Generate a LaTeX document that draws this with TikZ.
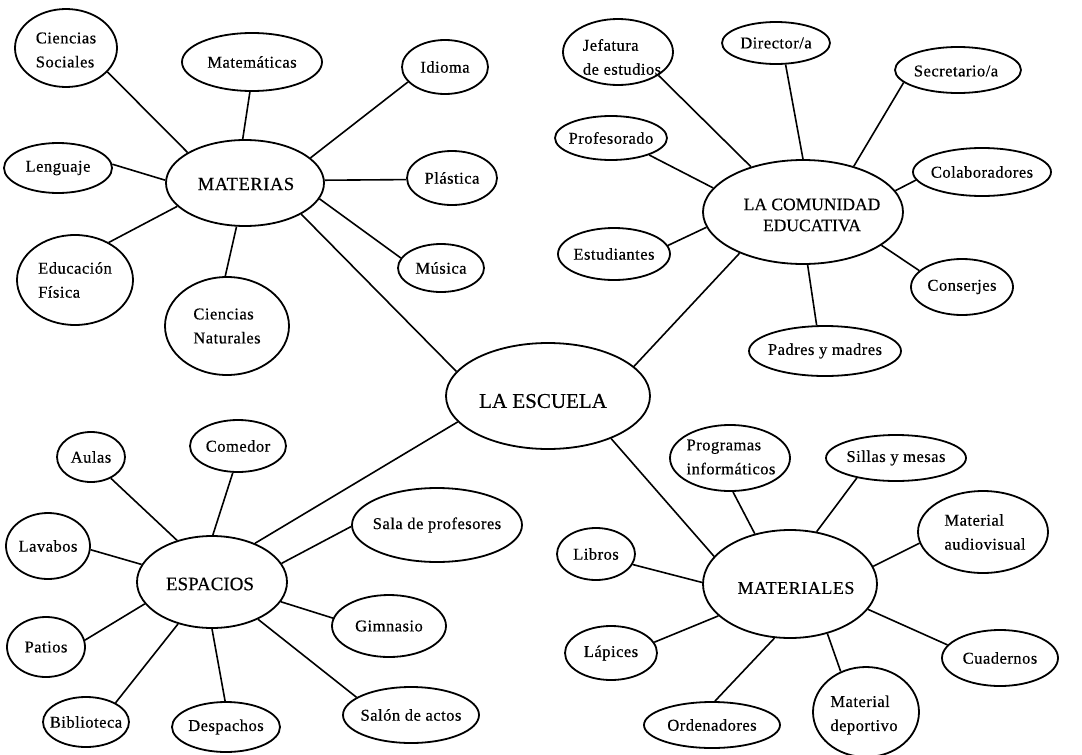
\documentclass[tikz,border=0pt]{standalone}
\usepackage{fontspec}
\setmainfont{Liberation Serif}[FakeBold=0.4]
\newfontfamily\leaffont{Liberation Serif}[LetterSpace=3, FakeBold=0.4]
\newfontfamily\hubfont{Liberation Serif}[LetterSpace=3, FakeBold=0.4]
\usetikzlibrary{shapes.geometric}

\tikzset{
  bub/.style={ellipse, draw=black, line width=1.8pt, inner sep=0pt},
  lbl/.style={inner sep=0pt, align=left, text=black,
    font=\leaffont\fontsize{16.5}{24}\selectfont},
  hub/.style={inner sep=0pt, align=center, text=black},
  link/.style={draw=black, line width=1.6pt},
}

\begin{document}
\begin{tikzpicture}[x=1pt, y=-1pt]
\useasboundingbox[fill=white] (0,0) rectangle (1082,755);

% ---------- hubs ----------
\node[bub, minimum width=204pt, minimum height=106pt] (esc) at (548,396) {};
\node[bub, minimum width=158pt, minimum height=86pt]  (mat) at (245,183) {};
\node[bub, minimum width=200pt, minimum height=104pt] (com) at (803,212) {};
\node[bub, minimum width=150pt, minimum height=92pt]  (esp) at (212,582) {};
\node[bub, minimum width=174pt, minimum height=108pt] (mtl) at (790,584) {};

\node[hub, font=\fontsize{21}{24}\selectfont] (esc-t) at (543,401) {LA ESCUELA};
\node[hub, font=\hubfont\fontsize{18.5}{22}\selectfont] (mat-t) at (246,184) {MATERIAS};
\node[hub, font=\fontsize{17.5}{21}\selectfont] (com-t) at (812,215) {LA COMUNIDAD\\EDUCATIVA};
\node[hub, font=\fontsize{19}{22}\selectfont] (esp-t) at (210,584) {ESPACIOS};
\node[hub, font=\hubfont\fontsize{18}{22}\selectfont] (mtl-t) at (796,588) {MATERIALES};

% ---------- MATERIAS ----------
\node[bub, minimum width=102pt, minimum height=78pt] (cs)   at (66,48)   {};
\node[bub, minimum width=140pt, minimum height=58pt] (mate) at (252,62)  {};
\node[bub, minimum width=86pt,  minimum height=54pt] (idi)  at (445,67)  {};
\node[bub, minimum width=90pt,  minimum height=54pt] (pla)  at (452,178) {};
\node[bub, minimum width=86pt,  minimum height=48pt] (mus)  at (441,268) {};
\node[bub, minimum width=108pt, minimum height=50pt] (len)  at (58,168)  {};
\node[bub, minimum width=116pt, minimum height=90pt] (ef)   at (75,280)  {};
\node[bub, minimum width=124pt, minimum height=98pt] (cn)   at (227,326) {};

\node[lbl] (cs-t)   at (66,50)  {Ciencias\\Sociales};
\node[lbl] (mate-t) at (mate) {Matemáticas};
\node[lbl] (idi-t)  at (idi)  {Idioma};
\node[lbl] (pla-t)  at (pla)  {Plástica};
\node[lbl] (mus-t)  at (mus)  {Música};
\node[lbl] (len-t)  at (len)  {Lenguaje};
\node[lbl] (ef-t)   at (ef)   {Educación\\Física};
\node[lbl] (cn-t)   at (cn)   {Ciencias\\Naturales};

% ---------- LA COMUNIDAD EDUCATIVA ----------
\node[bub, minimum width=110pt, minimum height=66pt] (jef)  at (618,52)  {};
\node[bub, minimum width=108pt, minimum height=42pt] (dir)  at (776,43)  {};
\node[bub, minimum width=126pt, minimum height=46pt] (sec)  at (958,70)  {};
\node[bub, minimum width=112pt, minimum height=44pt] (prof) at (611,138) {};
\node[bub, minimum width=138pt, minimum height=48pt] (col)  at (982,172) {};
\node[bub, minimum width=112pt, minimum height=52pt] (est)  at (614,254) {};
\node[bub, minimum width=102pt, minimum height=56pt] (con)  at (962,287) {};
\node[bub, minimum width=152pt, minimum height=50pt] (pad)  at (825,351) {};

\node[lbl] (jef-t)  at (622,57)  {Jefatura\\de estudios};
\node[lbl] (dir-t)  at (dir)  {Director/a};
\node[lbl] (sec-t)  at (956,71) {Secretario/a};
\node[lbl] (prof-t) at (prof) {Profesorado};
\node[lbl] (col-t)  at (col)  {Colaboradores};
\node[lbl] (est-t)  at (est)  {Estudiantes};
\node[lbl] (con-t)  at (con)  {Conserjes};
\node[lbl] (pad-t)  at (pad)  {Padres y madres};

% ---------- ESPACIOS ----------
\node[bub, minimum width=68pt,  minimum height=50pt] (aul)   at (91,457)  {};
\node[bub, minimum width=96pt,  minimum height=52pt] (come)  at (238,446) {};
\node[bub, minimum width=84pt,  minimum height=66pt] (lav)   at (48,546)  {};
\node[bub, minimum width=170pt, minimum height=74pt] (sala)  at (437,525) {};
\node[bub, minimum width=78pt,  minimum height=60pt] (pat)   at (46,647)  {};
\node[bub, minimum width=114pt, minimum height=62pt] (gim)   at (389,626) {};
\node[bub, minimum width=86pt,  minimum height=50pt] (bib)   at (86,722)  {};
\node[bub, minimum width=108pt, minimum height=50pt] (des)   at (226,727) {};
\node[bub, minimum width=136pt, minimum height=56pt] (salon) at (411,715) {};

\node[lbl] (aul-t)   at (aul)   {Aulas};
\node[lbl] (come-t)  at (come)  {Comedor};
\node[lbl] (lav-t)   at (lav)   {Lavabos};
\node[lbl] (sala-t)  at (sala)  {Sala de profesores};
\node[lbl] (pat-t)   at (pat)   {Patios};
\node[lbl] (gim-t)   at (gim)   {Gimnasio};
\node[lbl] (bib-t)   at (bib)   {Biblioteca};
\node[lbl] (des-t)   at (des)   {Despachos};
\node[lbl] (salon-t) at (salon) {Salón de actos};

% ---------- MATERIALES ----------
\node[bub, minimum width=120pt, minimum height=66pt] (prog) at (730,458)  {};
\node[bub, minimum width=140pt, minimum height=46pt] (sil)  at (896,458)  {};
\node[bub, minimum width=130pt, minimum height=82pt] (aud)  at (983,532)  {};
\node[bub, minimum width=78pt,  minimum height=52pt] (lib)  at (596,554)  {};
\node[bub, minimum width=92pt,  minimum height=54pt] (lap)  at (611,653)  {};
\node[bub, minimum width=116pt, minimum height=56pt] (cua)  at (1000,658) {};
\node[bub, minimum width=136pt, minimum height=46pt] (ord)  at (712,725)  {};
\node[bub, minimum width=106pt, minimum height=90pt] (dep)  at (866,712)  {};

\node[lbl] (prog-t) at (731,457) {Programas\\informáticos};
\node[lbl] (sil-t)  at (sil)  {Sillas y mesas};
\node[lbl] (aud-t)  at (985,532) {Material\\audiovisual};
\node[lbl] (lib-t)  at (lib)  {Libros};
\node[lbl] (lap-t)  at (lap)  {Lápices};
\node[lbl] (cua-t)  at (cua)  {Cuadernos};
\node[lbl] (ord-t)  at (ord)  {Ordenadores};
\node[lbl] (dep-t)  at (864,715) {Material\\deportivo};

% ---------- connectors ----------
\path[link]
  (mat.331) -- (esc.165)
  (com.213) -- (esc.19)
  (esp.42)  -- (esc.196)
  (mtl.160) -- (esc.326);

\path[link]
  (mat.152) -- (cs.330)
  (mat.93)  -- (mate.266)
  (mat.21)  -- (idi.202)
  (mat.2)   -- (pla.182)
  (mat.348) -- (mus.166)
  (mat.178) -- (len.4)
  (mat.199) -- (ef.48)
  (mat.259) -- (cn.92);

\path[link]
  (com.139) -- (jef.330)
  (com.90)  -- (dir.294)
  (com.42)  -- (sec.193)
  (com.165) -- (prof.336)
  (com.13)  -- (col.187)
  (com.189) -- (est.9)
  (com.337) -- (con.159)
  (com.275) -- (pad.108);

\path[link]
  (esp.130) -- (aul.313)
  (esp.89)  -- (come.259)
  (esp.166) -- (lav.355)
  (esp.15)  -- (sala.181)
  (esp.198) -- (pat.10)
  (esp.344) -- (gim.172)
  (esp.231) -- (bib.33)
  (esp.270) -- (des.92)
  (esp.321) -- (salon.162);

\path[link]
  (mtl.125) -- (prog.275)
  (mtl.63)  -- (sil.207)
  (mtl.12)  -- (aud.190)
  (mtl.179) -- (lib.344)
  (mtl.204) -- (lap.14)
  (mtl.342) -- (cua.166)
  (mtl.254) -- (ord.83)
  (mtl.307) -- (dep.122);
\end{tikzpicture}
\end{document}
